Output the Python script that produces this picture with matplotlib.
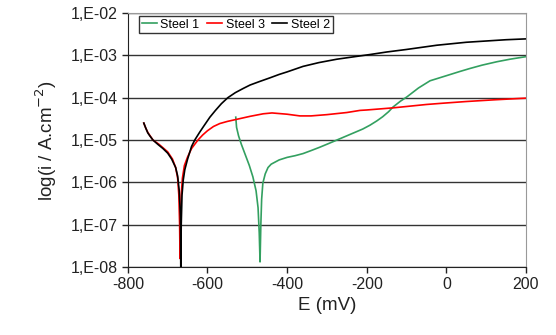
import numpy as np
import matplotlib
matplotlib.use('Agg')
import matplotlib.pyplot as plt
from matplotlib.ticker import FixedLocator, NullLocator

plt.rcParams['font.family'] = ['Liberation Sans', 'DejaVu Sans']
plt.rcParams['axes.unicode_minus'] = False

# Steel 1 (green)
e_steel1 = [-529, -527, -522, -515, -505, -495, -486, -478, -473, -470, -468,
            -466, -464, -461, -455, -448, -440, -420, -400, -380, -360, -340, -318, -295, -275,
            -250, -230, -210, -192, -175, -160, -145, -134, -115, -99, -70, -41, 0, 34, 59, 90, 127, 160, 200]
log_steel1 = [-4.46, -4.70, -4.90, -5.10, -5.35, -5.60, -5.87, -6.20, -6.60, -7.20, -7.88,
              -7.00, -6.40, -6.02, -5.80, -5.65, -5.57, -5.47, -5.41, -5.37, -5.32, -5.25, -5.17, -5.08, -5.00,
              -4.90, -4.82, -4.74, -4.65, -4.55, -4.45, -4.33, -4.22, -4.08, -3.98, -3.77, -3.60, -3.48, -3.38, -3.31, -3.23, -3.15, -3.09, -3.03]

# Steel 3 (red)
e_steel3 = [-760, -755, -750, -737, -722, -700, -688, -680, -675, -672, -670, -669,
            -668, -666, -663, -658, -650, -640, -624, -612, -600, -585, -569, -550, -531, -493, -460,
            -438, -400, -368, -340, -300, -250, -217, -200, -134, -50, -9, 50, 120, 200]
log_steel3 = [-4.60, -4.72, -4.82, -5.00, -5.10, -5.28, -5.45, -5.65, -5.90, -6.30, -7.00, -7.80,
              -7.00, -6.30, -5.90, -5.60, -5.40, -5.20, -5.00, -4.88, -4.78, -4.68, -4.61, -4.56, -4.52, -4.44, -4.38,
              -4.36, -4.39, -4.43, -4.43, -4.40, -4.35, -4.30, -4.29, -4.24, -4.16, -4.13, -4.09, -4.05, -4.01]

# Steel 2 (black)
e_steel2 = [-760, -755, -750, -745, -737, -725, -712, -700, -690, -680, -675, -671, -668, -667,
            -666, -664, -661, -657, -650, -640, -632, -620, -610, -594, -580, -565, -549, -530, -510,
            -493, -470, -443, -420, -400, -360, -320, -275, -230, -192, -150, -100, -24, 50, 100, 150, 200]
log_steel2 = [-4.60, -4.72, -4.83, -4.90, -5.00, -5.10, -5.20, -5.31, -5.45, -5.65, -5.85, -6.20, -6.80, -8.20,
              -7.00, -6.30, -5.95, -5.70, -5.45, -5.15, -5.00, -4.82, -4.68, -4.46, -4.30, -4.14, -4.00, -3.88, -3.78,
              -3.70, -3.62, -3.53, -3.45, -3.39, -3.26, -3.17, -3.09, -3.03, -2.98, -2.92, -2.86, -2.76, -2.69, -2.66, -2.63, -2.61]

y_ticks = [1e-8, 1e-7, 1e-6, 1e-5, 1e-4, 1e-3, 1e-2]
y_labels = ['1,E-08', '1,E-07', '1,E-06', '1,E-05', '1,E-04', '1,E-03', '1,E-02']
x_ticks = [-800, -600, -400, -200, 0, 200]

fig = plt.figure(figsize=(5.56, 3.35), dpi=100)
ax = fig.add_axes([0.230, 0.203, 0.716, 0.758])

ax.plot(e_steel1, 10 ** np.array(log_steel1), color='#33a060', lw=1.2, label='Steel 1')
ax.plot(e_steel3, 10 ** np.array(log_steel3), color='#ff0000', lw=1.2, label='Steel 3')
ax.plot(e_steel2, 10 ** np.array(log_steel2), color='black', lw=1.2, label='Steel 2')

ax.set_yscale('log')
ax.set_ylim(1e-8, 1e-2)
ax.set_xlim(-800, 200)
ax.yaxis.set_major_locator(FixedLocator(y_ticks))
ax.yaxis.set_minor_locator(NullLocator())
ax.set_yticklabels(y_labels)
ax.set_xticks(x_ticks)
ax.tick_params(axis='both', labelsize=11.5, direction='out', length=4, width=1,
               colors='#222222', labelcolor='#222222')
ax.grid(True, axis='y', color='#333333', lw=1)
ax.set_axisbelow(True)

for s in ['top', 'right']:
    ax.spines[s].set_color('#999999')
for s in ['left', 'bottom']:
    ax.spines[s].set_color('#222222')

ax.set_xlabel('E (mV)', fontsize=13.5, color='#222222', labelpad=3)
ax.set_ylabel('log(i / A.cm$^{-2}$)', fontsize=13.5, color='#222222', labelpad=8)

leg = ax.legend(loc='upper left', bbox_to_anchor=(0.028, 0.988), ncol=3, fontsize=9,
                frameon=True, fancybox=False, handlelength=1.2, handletextpad=0.3,
                columnspacing=0.6, borderpad=0.2, borderaxespad=0)
leg.get_frame().set_edgecolor('black')
leg.get_frame().set_linewidth(1)

fig.savefig('out.png', dpi=100)
